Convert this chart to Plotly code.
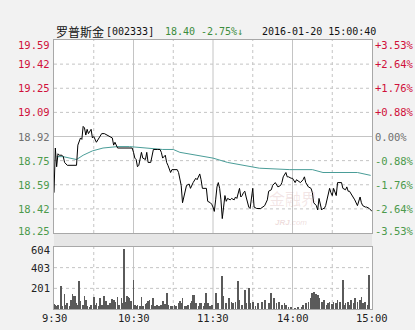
import numpy as np
import plotly.graph_objects as go

# ---------------- data ----------------
prev_close = 18.92
price_minutes = [0,1,2,3,4,6,7,8,10,17,18,20,21,22,23,24,25,26,28,29,30,32,34,36,38,40,42,44,45,46,48,59,60,61,62,63,64,66,67,69,70,71,73,75,78,80,81,82,84,85,86,88,89,93,94,96,97,99,100,102,103,105,107,108,110,111,112,115,116,118,119,120,
                 121,122,123,124,125,126,127,128,129,130,131,133,134,136,137,138,140,141,142,143,144,145,146,147,148,149,150,151,153,156,158,159,161,162,164,165,167,168,169,171,172,173,175,176,177,179,180,182,183,186,188,189,190,192,194,195,196,198,199,200,201,202,203,204,205,206,207,208,209,210,211,212,213,214,215,217,218,220,221,222,223,225,226,227,229,230,231,232,233,235,236,238,239,240]
price_values = [18.53,18.84,18.71,18.80,18.79,18.79,18.78,18.74,18.72,18.72,18.86,18.91,18.90,18.99,18.98,18.93,18.97,18.94,18.97,18.91,18.92,18.88,18.91,18.94,18.94,18.93,18.92,18.91,18.86,18.88,18.84,18.84,18.81,18.77,18.76,18.71,18.72,18.81,18.77,18.76,18.81,18.74,18.74,18.83,18.83,18.83,18.81,18.77,18.79,18.74,18.72,18.67,18.69,18.69,18.67,18.58,18.46,18.53,18.58,18.59,18.56,18.60,18.63,18.62,18.66,18.62,18.56,18.56,18.47,18.46,18.45,18.43,
                18.40,18.48,18.57,18.60,18.56,18.48,18.35,18.43,18.51,18.47,18.49,18.48,18.49,18.48,18.50,18.49,18.56,18.50,18.51,18.53,18.54,18.50,18.46,18.43,18.42,18.50,18.56,18.43,18.42,18.42,18.43,18.44,18.48,18.54,18.55,18.58,18.60,18.58,18.57,18.58,18.60,18.64,18.67,18.64,18.64,18.63,18.63,18.60,18.62,18.60,18.62,18.64,18.60,18.57,18.56,18.53,18.46,18.44,18.41,18.49,18.44,18.41,18.42,18.42,18.44,18.48,18.51,18.56,18.53,18.51,18.56,18.54,18.51,18.60,18.60,18.60,18.56,18.55,18.57,18.54,18.54,18.51,18.49,18.48,18.44,18.48,18.50,18.46,18.44,18.43,18.43,18.42,18.41,18.40]

avg_minutes = [2,7,17,22,29,37,48,57,82,90,95,120,131,143,150,155,178,195,203,216,229,239]
avg_values = [18.78,18.78,18.76,18.79,18.82,18.84,18.85,18.85,18.83,18.83,18.81,18.77,18.74,18.72,18.71,18.70,18.69,18.69,18.67,18.67,18.67,18.65]

vol_minutes = [0,1,2,3,5,6,8,9,10,12,13,14,15,16,17,18,19,20,22,23,24,25,27,28,30,31,32,34,35,36,38,39,41,42,44,45,46,48,49,51,52,53,54,55,56,57,58,60,61,62,63,65,66,67,69,70,71,72,74,75,76,78,79,81,82,84,85,86,88,89,91,92,94,95,96,97,99,100,101,103,104,105,106,107,109,110,111,113,114,115,116,118,119,
               122,124,127,128,130,132,134,135,137,139,140,142,144,145,147,148,150,152,154,157,159,162,164,166,168,170,172,174,175,177,179,182,184,187,188,190,192,194,195,196,198,199,200,202,203,204,206,207,208,210,211,213,214,216,218,219,220,222,223,224,226,227,229,231,232,233,235,237,238]
vol_values = [52,42,26,42,221,26,149,42,58,26,91,149,123,123,58,42,270,75,42,123,84,26,10,42,117,42,58,26,107,42,123,75,42,58,97,91,65,117,42,107,58,585,65,123,117,107,75,286,42,26,42,26,117,26,52,58,75,91,42,107,26,42,26,42,75,52,156,42,26,26,42,26,58,75,58,107,32,26,42,58,75,140,140,58,26,58,58,26,58,156,58,26,42,
              160,55,321,127,55,104,71,55,71,273,88,39,185,55,201,55,71,29,55,71,88,55,160,104,55,71,39,62,39,23,16,6,16,23,39,55,71,104,153,169,146,136,104,71,55,88,39,55,71,49,71,55,88,71,282,39,55,71,39,88,55,104,71,88,120,55,71,39,331]

price_tick_labels = ["19.59","19.42","19.25","19.09","18.92","18.75","18.59","18.42","18.25"]
pct_tick_labels = ["+3.53%","+2.64%","+1.76%","+0.88%","0.00%","-0.88%","-1.76%","-2.64%","-3.53%"]
vol_tick_labels = ["604","403","201"]
vol_tick_values = [604,403,201]
time_tick_minutes = [0,60,120,180,240]
time_tick_labels = ["9:30","10:30","11:30","14:00","15:00"]

# ---------------- layout geometry ----------------
W, H = 415, 330
def px_x(x): return x / W
def px_y(y): return (H - y) / H

X0, X1 = 54, 372
P_TOP, P_BOT = 40, 233
V_TOP, V_BOT = 247, 309
PMIN, PMAX = 18.25, 19.59
price_tick_pos = list(np.linspace(PMAX, PMIN, 9))

RED = "#d0103a"
GREEN = "#4c9a4c"
GRAY = "#707070"
MONO = "DejaVu Sans Mono"

fig = go.Figure()
fig.add_trace(go.Scatter(x=avg_minutes, y=avg_values, mode="lines",
                         line=dict(color="#4a9d98", width=1), xaxis="x", yaxis="y", hoverinfo="skip"))
fig.add_trace(go.Scatter(x=price_minutes, y=price_values, mode="lines",
                         line=dict(color="#000000", width=1), xaxis="x", yaxis="y", hoverinfo="skip"))
fig.add_trace(go.Bar(x=vol_minutes, y=vol_values, width=0.6, marker=dict(color="#5a5a5a", line=dict(width=0)),
                     xaxis="x2", yaxis="y2", hoverinfo="skip"))

axis_common = dict(showline=True, mirror=True, linecolor="#a8a8a8", linewidth=1,
                   showticklabels=False, ticks="", zeroline=False, showgrid=False, fixedrange=True)
fig.update_layout(
    width=W, height=H, margin=dict(l=0, r=0, t=0, b=0),
    paper_bgcolor="#f2f2f2", plot_bgcolor="#ffffff", showlegend=False, bargap=0,
    xaxis=dict(domain=[px_x(X0), px_x(X1)], range=[0, 240], anchor="y", **axis_common),
    yaxis=dict(domain=[px_y(P_BOT), px_y(P_TOP)], range=[PMIN, PMAX], anchor="x", **axis_common),
    xaxis2=dict(domain=[px_x(X0), px_x(X1)], range=[0, 240], anchor="y2", **axis_common),
    yaxis2=dict(domain=[px_y(V_BOT), px_y(V_TOP)], range=[0, 604], anchor="x2", **axis_common),
)

shapes = []
# band between panels
shapes.append(dict(type="rect", xref="paper", yref="paper", x0=px_x(X0), x1=px_x(X1),
                   y0=px_y(V_TOP - 1), y1=px_y(P_BOT + 1), fillcolor="#e6e6e6", line=dict(width=0), layer="below"))
GRID = "#c4c4c4"
for m in [30, 60, 90, 120, 150, 180, 210]:
    dash = "solid" if m % 60 == 0 else "dot"
    for xr, yr in [("x", "y domain"), ("x2", "y2 domain")]:
        shapes.append(dict(type="line", xref=xr, yref=yr, x0=m, x1=m, y0=0, y1=1,
                           line=dict(color=GRID, width=1, dash=dash), layer="below"))
for i, p in enumerate(price_tick_pos[1:-1], start=1):
    dash = "solid" if price_tick_labels[i] == "18.92" else "dot"
    shapes.append(dict(type="line", xref="x domain", yref="y", x0=0, x1=1, y0=p, y1=p,
                       line=dict(color=GRID, width=1, dash=dash), layer="below"))
for v in vol_tick_values[1:]:
    shapes.append(dict(type="line", xref="x2 domain", yref="y2", x0=0, x1=1, y0=v, y1=v,
                       line=dict(color=GRID, width=1, dash="dot"), layer="below"))
fig.update_layout(shapes=shapes)

ann = []
def label_color(i):
    return RED if i < 4 else (GRAY if i == 4 else GREEN)
for i, (p, lab, pl) in enumerate(zip(price_tick_pos, price_tick_labels, pct_tick_labels)):
    shift = -5 if i == 0 else (2 if i == 8 else 0)
    ann.append(dict(x=px_x(52), xref="paper", y=p, yref="y", text=lab, showarrow=False,
                    xanchor="right", yanchor="middle", yshift=shift,
                    font=dict(family=MONO, size=10.5, color=label_color(i))))
    ann.append(dict(x=px_x(373), xref="paper", y=p, yref="y", text=pl, showarrow=False,
                    xanchor="left", yanchor="middle", yshift=shift,
                    font=dict(family=MONO, size=10.5, color=label_color(i))))
for i, (v, lab) in enumerate(zip(vol_tick_values, vol_tick_labels)):
    shift = -3 if i == 0 else 0
    ann.append(dict(x=px_x(52), xref="paper", y=v, yref="y2", text=lab, showarrow=False,
                    xanchor="right", yanchor="middle", yshift=shift,
                    font=dict(family=MONO, size=10.5, color="#222222")))
for m, lab in zip(time_tick_minutes, time_tick_labels):
    ann.append(dict(x=m, xref="x2", y=px_y(318), yref="paper", text=lab, showarrow=False,
                    xanchor="center", yanchor="middle",
                    font=dict(family=MONO, size=10.5, color="#222222")))
# header
TY = px_y(31)
ann += [
    dict(x=px_x(54), y=TY, xref="paper", yref="paper", text="罗普斯金", showarrow=False, xanchor="left", yanchor="middle",
         font=dict(family="Noto Sans CJK SC", size=12, color="#111111")),
    dict(x=px_x(104), y=TY, xref="paper", yref="paper", text="[002333]", showarrow=False, xanchor="left", yanchor="middle",
         font=dict(family=MONO, size=10, color="#111111")),
    dict(x=px_x(163), y=TY, xref="paper", yref="paper", text="18.40", showarrow=False, xanchor="left", yanchor="middle",
         font=dict(family=MONO, size=10, color="#3c8c3c")),
    dict(x=px_x(199), y=TY, xref="paper", yref="paper", text="-2.75%↓", showarrow=False, xanchor="left", yanchor="middle",
         font=dict(family=MONO, size=10, color="#3c8c3c")),
    dict(x=px_x(260), y=TY, xref="paper", yref="paper", text="2016-01-20 15:00:40", showarrow=False, xanchor="left", yanchor="middle",
         font=dict(family=MONO, size=10, color="#111111")),
    # faint watermark, two separate non-overlapping texts
    dict(x=px_x(318), y=px_y(198), xref="paper", yref="paper", text="金融界", showarrow=False, borderpad=0,
         yanchor="middle", font=dict(family="Noto Sans CJK SC", size=16, color="rgba(200,140,140,0.22)")),
    dict(x=px_x(308), y=px_y(222), xref="paper", yref="paper", text="<i><b>JRJ</b>.com</i>", showarrow=False, borderpad=0,
         yanchor="middle", font=dict(family="Liberation Sans", size=8, color="rgba(200,140,140,0.3)")),
]
fig.update_layout(annotations=ann)

fig.write_html("out.html")
